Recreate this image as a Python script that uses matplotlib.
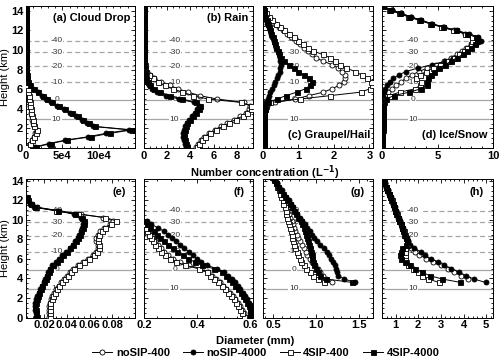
import numpy as np
import matplotlib
matplotlib.use("Agg")
import matplotlib.pyplot as plt
from matplotlib.ticker import AutoMinorLocator

plt.rcParams['font.family'] = ['Liberation Sans', 'DejaVu Sans']
plt.rcParams['font.weight'] = 'bold'
plt.rcParams['axes.linewidth'] = 0.7

# model levels (km)
H = [0.1, 0.45, 0.8, 1.15, 1.5, 1.85, 2.2, 2.55, 2.9, 3.25, 3.6, 3.95, 4.3, 4.65,
     5.0, 5.35, 5.7, 6.05, 6.4, 6.75, 7.1, 7.45, 7.8, 8.15, 8.5, 8.85, 9.2, 9.55,
     9.9, 10.25, 10.6, 10.95, 11.3, 11.65, 12.0, 12.35, 12.7, 13.05, 13.4, 13.75, 14.1, 14.45]

# isotherm heights (km) and labels (deg C)
T_heights = [10.95, 9.75, 8.37, 6.73, 4.91, 2.95]
T_labels = ['-40', '-30', '-20', '-10', '0', '10']

runs = ['noSIP-400', 'noSIP-4000', '4SIP-400', '4SIP-4000']

Z = [0] * 14
N = [None] * 14

# (a) cloud drop number, units of 1e4 per L
a_n400 = [0.15, 0.5, 0.8, 1.05, 1.3, 1.45, 1.05, 0.95, 0.88, 0.8, 0.72, 0.65, 0.58, 0.5,
          0.42, 0.35, 0.27, 0.2, 0.13, 0.08, 0.05, 0.03, 0.02, 0.01, 0.01, 0, 0, 0] + Z
a_n4000 = [1.2, 3.1, 5.4, 8.6, 11.0, 14.2, 9.2, 8.4, 7.7, 6.9, 6.1, 5.2, 4.3, 3.5,
           2.8, 2.2, 1.6, 1.0, 0.5, 0.25, 0.12, 0.06, 0.03, 0.02, 0.01, 0.01, 0, 0] + Z
a_s400 = [0.2, 0.55, 0.85, 1.1, 1.35, 1.5, 1.1, 1.0, 0.9, 0.82, 0.75, 0.68, 0.6, 0.52,
          0.45, 0.37, 0.29, 0.21, 0.14, 0.09, 0.05, 0.03, 0.02, 0.01, 0.01, 0, 0, 0] + Z
a_s4000 = [1.4, 3.4, 5.7, 9.0, 11.6, 14.6, 9.5, 8.7, 7.9, 7.1, 6.3, 5.4, 4.5, 3.6,
           2.9, 2.3, 1.7, 1.1, 0.55, 0.28, 0.13, 0.07, 0.04, 0.02, 0.01, 0.01, 0, 0] + Z

# (b) rain number (1/L)
b_n400 = [4.5, 4.65, 4.9, 5.2, 5.6, 6.1, 6.6, 7.2, 7.8, 8.3, 8.8, 9.05, 9.1, 8.6,
          6.3, 4.8, 3.8, 2.9, 2.2, 1.5, 0.9, 0.5, 0.25, 0.12, 0.06, 0.03, 0.02, 0.01,
          0.01, 0.01, 0, 0, 0, 0, 0, 0, 0, 0, 0, 0, 0, 0]
b_n4000 = [3.65, 3.55, 3.45, 3.4, 3.4, 3.45, 3.55, 3.7, 3.9, 4.15, 4.4, 4.6, 4.7, 4.3,
           3.0, 1.9, 1.1, 0.7, 0.4, 0.25, 0.15, 0.1, 0.06, 0.04, 0.03, 0.02, 0.02, 0.01,
           0.01, 0.01, 0, 0, 0, 0, 0, 0, 0, 0, 0, 0, 0, 0]
b_s400 = [4.6, 4.75, 5.0, 5.3, 5.7, 6.2, 6.8, 7.3, 7.9, 8.5, 8.9, 9.2, 9.25, 8.4,
          5.5, 4.2, 3.3, 2.5, 1.8, 1.2, 0.75, 0.4, 0.2, 0.1, 0.05, 0.03, 0.02, 0.01,
          0.01, 0.01, 0, 0, 0, 0, 0, 0, 0, 0, 0, 0, 0, 0]
b_s4000 = [3.75, 3.6, 3.5, 3.45, 3.45, 3.5, 3.6, 3.75, 4.0, 4.25, 4.5, 4.75, 4.8, 4.5,
           3.3, 2.2, 1.4, 0.9, 0.55, 0.35, 0.2, 0.12, 0.07, 0.04, 0.03, 0.02, 0.02, 0.01,
           0.01, 0.01, 0, 0, 0, 0, 0, 0, 0, 0, 0, 0, 0, 0]

# (c) graupel/hail number (1/L)
c_n400 = [0.03, 0.03, 0.03, 0.03, 0.03, 0.03, 0.03, 0.03, 0.03, 0.03, 0.04, 0.05, 0.1, 0.35,
          0.9, 1.3, 1.7, 1.95, 2.15, 2.28, 2.32, 2.3, 2.22, 2.12, 1.95, 1.7, 1.5, 1.38,
          1.28, 1.16, 1.04, 0.94, 0.8, 0.68, 0.56, 0.44, 0.34, 0.24, 0.15, 0.08, 0.03, 0]
c_n4000 = [0.03, 0.03, 0.03, 0.03, 0.03, 0.03, 0.03, 0.03, 0.03, 0.03, 0.04, 0.04, 0.05, 0.08,
           0.14, 0.17, 0.21, 0.25, 0.3, 0.34, 0.39, 0.43, 0.47, 0.49, 0.5, 0.49, 0.47, 0.44,
           0.41, 0.37, 0.34, 0.3, 0.26, 0.23, 0.19, 0.16, 0.12, 0.09, 0.06, 0.04, 0.02, 0]
c_s400 = [0.03, 0.03, 0.03, 0.03, 0.03, 0.03, 0.03, 0.03, 0.03, 0.03, 0.04, 0.05, 0.08, 0.2,
          1.05, 1.9, 2.75, 3.02, 3.07, 3.03, 2.92, 2.78, 2.6, 2.35, 2.18, 2.02, 1.9, 1.68,
          1.42, 1.27, 1.14, 1.0, 0.87, 0.74, 0.6, 0.48, 0.36, 0.26, 0.16, 0.08, 0.03, 0]
c_s4000 = [0.03, 0.03, 0.03, 0.03, 0.03, 0.03, 0.03, 0.03, 0.03, 0.03, 0.04, 0.05, 0.06, 0.15,
           0.4, 0.65, 0.95, 1.2, 1.33, 1.37, 1.3, 1.15, 1.0, 0.86, 0.72, 0.6, 0.52, 0.46,
           0.42, 0.38, 0.34, 0.31, 0.27, 0.23, 0.2, 0.16, 0.13, 0.1, 0.07, 0.04, 0.02, 0]

# (d) ice/snow number (1/L)
d_n400 = [0.03, 0.03, 0.03, 0.04, 0.04, 0.04, 0.05, 0.05, 0.05, 0.06, 0.06, 0.07, 0.07, 0.08,
          0.13, 0.27, 0.54, 0.86, 1.28, 1.71, 2.14, 2.68, 3.32, 4.07, 4.82, 5.56, 6.21, 6.74,
          7.17, 7.6, 8.03, 8.24, 8.13, 7.49, 6.53, 5.46, 4.39, 3.42, 2.57, 1.71, 0.86, 0.11]
d_n4000 = [0.03, 0.03, 0.04, 0.04, 0.04, 0.05, 0.05, 0.05, 0.06, 0.06, 0.07, 0.07, 0.08, 0.09,
           0.11, 0.13, 0.19, 0.3, 0.45, 0.7, 1.02, 1.5, 2.14, 3.21, 4.49, 5.67, 6.42, 7.06,
           7.49, 7.92, 8.45, 8.88, 8.67, 7.81, 6.74, 5.56, 4.49, 3.53, 2.57, 1.71, 0.86, 0.11]
d_s400 = [0.03, 0.03, 0.03, 0.04, 0.04, 0.04, 0.05, 0.05, 0.05, 0.06, 0.06, 0.07, 0.08, 0.12,
          0.27, 0.64, 1.6, 3.0, 3.42, 3.53, 3.05, 3.42, 3.96, 4.6, 5.24, 5.99, 6.53, 6.96,
          7.38, 7.7, 8.03, 8.13, 8.13, 7.49, 6.42, 5.35, 4.28, 3.32, 2.35, 1.5, 0.64, 0.05]
d_s4000 = [0.03, 0.03, 0.04, 0.04, 0.04, 0.05, 0.05, 0.05, 0.06, 0.06, 0.07, 0.08, 0.1, 0.15,
           0.37, 1.07, 2.46, 3.53, 4.01, 4.07, 4.17, 4.39, 4.71, 5.14, 5.67, 6.21, 6.74, 7.28,
           7.7, 8.03, 8.35, 8.56, 8.45, 7.7, 6.63, 5.46, 4.39, 3.42, 2.46, 1.6, 0.75, 0.05]

# (e) cloud drop diameter (mm)
e_n400 = [0.0245, 0.0243, 0.0243, 0.0245, 0.025, 0.026, 0.0273, 0.0288, 0.0307, 0.0327, 0.0348, 0.0375, 0.04, 0.0425,
          0.0455, 0.0495, 0.054, 0.0585, 0.063, 0.0655, 0.067, 0.067, 0.066, 0.066, 0.0675, 0.0695, 0.073, 0.078,
          0.081, 0.072, 0.052, 0.033, 0.014, 0.009] + [None] * 8
e_n4000 = [0.0132, 0.0127, 0.0122, 0.012, 0.0122, 0.013, 0.014, 0.0152, 0.0165, 0.018, 0.0195, 0.021, 0.0225, 0.0238,
           0.025, 0.027, 0.0305, 0.0335, 0.036, 0.0395, 0.0425, 0.045, 0.0475, 0.0495, 0.051, 0.052, 0.0535, 0.0545,
           0.055, 0.052, 0.046, 0.031, 0.011, 0.0075, 0.0055, 0.004] + [None] * 6
e_s400 = [0.025, 0.0248, 0.0248, 0.025, 0.0255, 0.0265, 0.028, 0.0295, 0.0315, 0.0335, 0.0355, 0.0385, 0.041, 0.0435,
          0.0465, 0.0505, 0.055, 0.0595, 0.064, 0.0665, 0.068, 0.068, 0.067, 0.067, 0.0685, 0.0705, 0.074, 0.079,
          0.0835, 0.074, 0.05, 0.03, 0.013] + [None] * 9
e_s4000 = [0.0135, 0.013, 0.0125, 0.0123, 0.0125, 0.0133, 0.0143, 0.0155, 0.0168, 0.0183, 0.0198, 0.0213, 0.0228, 0.0242,
           0.0255, 0.0275, 0.031, 0.034, 0.0365, 0.04, 0.043, 0.0455, 0.048, 0.05, 0.0515, 0.0525, 0.054, 0.055,
           0.0555, 0.053, 0.047, 0.032, 0.012, 0.008, 0.006, 0.0045] + [None] * 6

# (f) rain diameter (mm)
f_n400 = [0.58, 0.575, 0.567, 0.56, 0.552, 0.543, 0.533, 0.522, 0.51, 0.497, 0.484, 0.47, 0.455, 0.44,
          0.415, 0.37, 0.335, 0.31, 0.292, 0.277, 0.263, 0.252, 0.242, 0.233, 0.225, 0.217, 0.21, 0.204] + N
f_n4000 = [0.603, 0.606, 0.605, 0.6, 0.595, 0.588, 0.58, 0.571, 0.562, 0.552, 0.542, 0.53, 0.517, 0.502,
           0.475, 0.437, 0.415, 0.398, 0.383, 0.368, 0.352, 0.336, 0.32, 0.305, 0.29, 0.275, 0.252, 0.228,
           0.212] + [None] * 13
f_s400 = [0.576, 0.57, 0.562, 0.555, 0.547, 0.538, 0.528, 0.517, 0.505, 0.492, 0.479, 0.465, 0.45, 0.436,
          0.405, 0.355, 0.322, 0.298, 0.28, 0.265, 0.252, 0.242, 0.233, 0.225, 0.218, 0.212, 0.206, 0.201] + N
f_s4000 = [0.598, 0.6, 0.598, 0.594, 0.588, 0.58, 0.572, 0.563, 0.553, 0.543, 0.532, 0.52, 0.507, 0.493,
           0.462, 0.42, 0.39, 0.365, 0.345, 0.326, 0.308, 0.292, 0.276, 0.262, 0.248, 0.236, 0.224, 0.212,
           0.203] + [None] * 13

# (g) graupel/hail diameter (mm)
g_n400 = [None] * 10 + [1.19, 1.12, 1.08, 1.05,
          1.02, 0.99, 0.96, 0.93, 0.9, 0.88, 0.86, 0.835, 0.815, 0.795, 0.775, 0.76, 0.745, 0.73,
          0.715, 0.7, 0.685, 0.67, 0.655, 0.64, 0.625, 0.61, 0.595, 0.58, 0.56, 0.545, 0.525, 0.51]
g_n4000 = [None] * 10 + [1.46, 1.33, 1.265, 1.25,
           1.235, 1.22, 1.2, 1.18, 1.155, 1.125, 1.09, 1.05, 1.01, 0.98, 0.955, 0.93, 0.9, 0.87,
           0.84, 0.81, 0.78, 0.76, 0.73, 0.71, 0.68, 0.65, 0.62, 0.6, 0.57, 0.54, 0.51, 0.49]
g_s400 = [None] * 10 + [1.1, 1.02, 0.97, 0.93,
          0.89, 0.86, 0.83, 0.81, 0.79, 0.775, 0.76, 0.745, 0.735, 0.725, 0.715, 0.705, 0.695, 0.685,
          0.675, 0.665, 0.655, 0.645, 0.635, 0.62, 0.61, 0.595, 0.58, 0.565, 0.55, 0.535, 0.52, 0.505]
g_s4000 = [None] * 10 + [1.42, 1.12, 1.05, 1.02,
           1.0, 0.98, 0.97, 0.96, 0.95, 0.94, 0.93, 0.92, 0.91, 0.9, 0.89, 0.875, 0.86, 0.84,
           0.82, 0.795, 0.77, 0.745, 0.72, 0.695, 0.665, 0.64, 0.61, 0.585, 0.56, 0.535, 0.505, 0.485]

# (h) ice/snow diameter (mm)
h_n400 = [None] * 11 + [4.2, 3.9, 3.6,
          3.3, 3.0, 2.65, 2.35, 2.05, 1.85, 1.7, 1.6, 1.53, 1.47, 1.41, 1.36, 1.3, 1.24,
          1.18, 1.12, 1.06, 1.0, 0.95, 0.89, 0.83, 0.77, 0.71, 0.65, 0.58, 0.52, 0.46, 0.41]
h_n4000 = [None] * 10 + [4.97, 4.45, 4.1, 3.8,
           3.45, 3.15, 2.85, 2.55, 2.28, 2.1, 1.8, 1.63, 1.55, 1.49, 1.43, 1.38, 1.32, 1.26,
           1.2, 1.13, 1.07, 1.02, 0.96, 0.9, 0.84, 0.78, 0.72, 0.66, 0.59, 0.53, 0.47, 0.42]
h_s400 = [None] * 10 + [2.9, 2.45, 2.15, 1.98,
          1.75, 1.55, 1.45, 1.42, 1.4, 1.4, 1.42, 1.5, 1.52, 1.46, 1.4, 1.35, 1.29, 1.23,
          1.17, 1.11, 1.05, 0.99, 0.94, 0.88, 0.82, 0.76, 0.7, 0.64, 0.57, 0.51, 0.45, 0.4]
h_s4000 = [None] * 10 + [3.86, 3.05, 2.5, 2.15,
           1.85, 1.65, 1.4, 1.22, 1.2, 1.22, 1.3, 1.45, 1.5, 1.45, 1.39, 1.34, 1.28, 1.22,
           1.16, 1.1, 1.04, 0.98, 0.93, 0.87, 0.81, 0.75, 0.69, 0.63, 0.56, 0.5, 0.44, 0.4]

STYLE = {
    'noSIP-400': dict(marker='o', mfc='white'),
    'noSIP-4000': dict(marker='o', mfc='black'),
    '4SIP-400': dict(marker='s', mfc='white'),
    '4SIP-4000': dict(marker='s', mfc='black'),
}

panels = [
    # series, xlim, xticks, xticklabels, title, title position
    ([a_n400, a_n4000, a_s400, a_s4000], (0, 15), [0, 5, 10], ['0', '5e4', '10e4'], '(a) Cloud Drop', (0.955, 0.915, 'right')),
    ([b_n400, b_n4000, b_s400, b_s4000], (0, 9.4), [0, 2, 4, 6, 8], None, '(b) Rain', (0.955, 0.915, 'right')),
    ([c_n400, c_n4000, c_s400, c_s4000], (0, 3.1), [0, 1, 2, 3], None, '(c) Graupel/Hail', (0.975, 0.09, 'right')),
    ([d_n400, d_n4000, d_s400, d_s4000], (0, 10), [0, 5, 10], None, '(d) Ice/Snow', (0.945, 0.09, 'right')),
    ([e_n400, e_n4000, e_s400, e_s4000], (0.004, 0.1), [0.02, 0.04, 0.06, 0.08], None, '(e)', (0.92, 0.905, 'right')),
    ([f_n400, f_n4000, f_s400, f_s4000], (0.2, 0.61), [0.2, 0.4, 0.6], None, '(f)', (0.92, 0.905, 'right')),
    ([g_n400, g_n4000, g_s400, g_s4000], (0.38, 1.67), [0.5, 1, 1.5], None, '(g)', (0.92, 0.905, 'right')),
    ([h_n400, h_n4000, h_s400, h_s4000], (0.4, 5.3), [1, 2, 3, 4, 5], None, '(h)', (0.92, 0.905, 'right')),
]

lefts = [0.052, 0.288, 0.526, 0.764]
widths = [0.218, 0.218, 0.22, 0.222]
rows = [(0.5912, 0.3923, 14.5), (0.1229, 0.3826, 14.2)]

fig = plt.figure(figsize=(5, 3.62), dpi=100)
heights = np.array(H)

handles = []
for k, (series, xlim, xt, xtl, title, tpos) in enumerate(panels):
    r, c = divmod(k, 4)
    bottom, hgt, ytop = rows[r]
    ax = fig.add_axes([lefts[c], bottom, widths[c], hgt])

    for th, tl in zip(T_heights, T_labels):
        ls = '-' if tl in ('0', '10') else (0, (4, 2.5))
        ax.axhline(th, color='#a6a6a6', lw=0.9, ls=ls, zorder=1)
        ax.text(0.28, th, tl, transform=ax.get_yaxis_transform(), ha='center', va='center',
                fontsize=6, fontweight='normal', color='#333333', zorder=2,
                bbox=dict(fc='white', ec='none', pad=0.4))

    for name, vals in zip(runs, series):
        x = np.array(vals, dtype=float)
        ln, = ax.plot(x, heights, color='black', lw=0.7, ms=3.6, mec='black', mew=0.6,
                      zorder=3, **STYLE[name])
        if k == 0:
            handles.append(ln)

    ax.set_xlim(*xlim)
    ax.set_ylim(0, ytop)
    ax.set_xticks(xt)
    if xtl:
        ax.set_xticklabels(xtl)
    ax.set_yticks(range(0, 15, 2))
    ax.xaxis.set_minor_locator(AutoMinorLocator())
    ax.yaxis.set_minor_locator(AutoMinorLocator(4))
    ax.tick_params(which='both', direction='in', top=True, right=True, width=0.6, labelsize=8)
    ax.tick_params(which='major', length=3, pad=2)
    ax.tick_params(which='minor', length=1.5)
    if c == 0:
        ax.set_ylabel('Height (km)', fontsize=8)
        ax.yaxis.set_label_coords(-0.145, 0.5)
    else:
        ax.set_yticklabels([])
    ax.text(tpos[0], tpos[1], title, transform=ax.transAxes, ha=tpos[2], va='center', fontsize=8)

fig.text(0.53, 0.522, 'Number concentration (L$^{\\mathbf{-1}}$)', ha='center', va='center', fontsize=8)
fig.text(0.51, 0.058, 'Diameter (mm)', ha='center', va='center', fontsize=8)
fig.legend(handles, runs, loc='center', bbox_to_anchor=(0.532, 0.024), ncol=4, frameon=False,
           fontsize=8, handlelength=1.8, columnspacing=1.2, handletextpad=0.3, borderaxespad=0)

fig.savefig('out.png', dpi=100)
